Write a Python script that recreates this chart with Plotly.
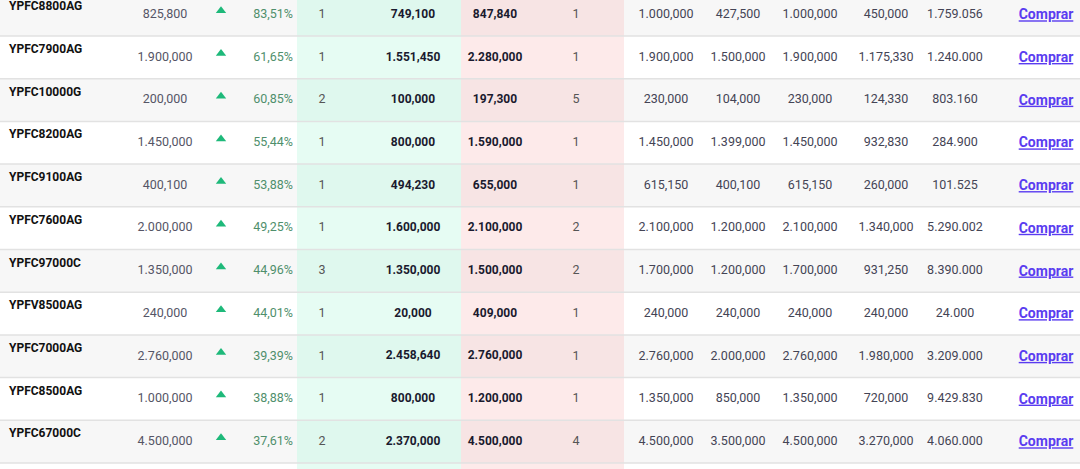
import plotly.graph_objects as go

names = ["YPFC8800AG","YPFC7900AG","YPFC10000G","YPFC8200AG","YPFC9100AG","YPFC7600AG",
         "YPFC97000C","YPFV8500AG","YPFC7000AG","YPFC8500AG","YPFC67000C"]
last = ["825,800","1.900,000","200,000","1.450,000","400,100","2.000,000","1.350,000","240,000","2.760,000","1.000,000","4.500,000"]
pct = ["83,51%","61,65%","60,85%","55,44%","53,88%","49,25%","44,96%","44,01%","39,39%","38,88%","37,61%"]
bid_qty = ["1","1","2","1","1","1","3","1","1","1","2"]
bid = ["749,100","1.551,450","100,000","800,000","494,230","1.600,000","1.350,000","20,000","2.458,640","800,000","2.370,000"]
ask = ["847,840","2.280,000","197,300","1.590,000","655,000","2.100,000","1.500,000","409,000","2.760,000","1.200,000","4.500,000"]
ask_qty = ["1","1","5","1","1","2","2","1","1","1","4"]
opn = ["1.000,000","1.900,000","230,000","1.450,000","615,150","2.100,000","1.700,000","240,000","2.760,000","1.350,000","4.500,000"]
low = ["427,500","1.500,000","104,000","1.399,000","400,100","1.200,000","1.200,000","240,000","2.000,000","850,000","3.500,000"]
high = ["1.000,000","1.900,000","230,000","1.450,000","615,150","2.100,000","1.700,000","240,000","2.760,000","1.350,000","4.500,000"]
prev = ["450,000","1.175,330","124,330","932,830","260,000","1.340,000","931,250","240,000","1.980,000","720,000","3.270,000"]
vol = ["1.759.056","1.240.000","803.160","284.900","101.525","5.290.002","8.390.000","24.000","3.209.000","9.429.830","4.060.000"]

RH = 42.7
T0 = -6.7
n = len(names)
tops = [T0 + RH * i for i in range(n)]
ynum = [t + 21.5 for t in tops]
yname = [t + 14 for t in tops]

fig = go.Figure()
shapes = []
for i, t in enumerate(tops):
    grey = i % 2 == 0
    shapes.append(dict(type="rect", x0=0, x1=1080, y0=t, y1=t + RH, fillcolor="#f7f7f7" if grey else "#ffffff", line_width=0, layer="below"))
    shapes.append(dict(type="rect", x0=297, x1=461, y0=t, y1=t + RH, fillcolor="#dff8ee" if grey else "#e6fcf3", line_width=0, layer="below"))
    shapes.append(dict(type="rect", x0=461, x1=624, y0=t, y1=t + RH, fillcolor="#f7e4e4" if grey else "#fdeaea", line_width=0, layer="below"))
    shapes.append(dict(type="line", x0=0, x1=1080, y0=t + RH, y1=t + RH, line=dict(color="#e2e2e2", width=1.5)))
shapes.append(dict(type="rect", x0=297, x1=461, y0=tops[-1] + RH, y1=480, fillcolor="#e6fcf3", line_width=0, layer="below"))
shapes.append(dict(type="rect", x0=461, x1=624, y0=tops[-1] + RH, y1=480, fillcolor="#fdeaea", line_width=0, layer="below"))

F = "Roboto"
def col(x, vals, ys, color, size=12.5, bold=False, pos="middle center"):
    txt = [f"<b>{v}</b>" if bold else v for v in vals]
    fig.add_trace(go.Scatter(x=[x] * len(vals), y=ys, mode="text", text=txt, textposition=pos,
                             textfont=dict(family=F, size=size, color=color), hoverinfo="skip", showlegend=False))

col(9, names, yname, "#111111", 12, True, "middle right")
col(165, last, ynum, "#555566")
fig.add_trace(go.Scatter(x=[221] * n, y=[y - 4 for y in ynum], mode="markers",
                         marker=dict(symbol="triangle-up", size=9, color="#1eb97a"), hoverinfo="skip", showlegend=False))
col(293, pct, ynum, "#4f8f6c", 12.5, False, "middle left")
col(322, bid_qty, ynum, "#555555")
col(413, bid, ynum, "#1a1a2e", 12, True)
col(495, ask, ynum, "#1a1a2e", 12, True)
col(576, ask_qty, ynum, "#555555")
col(666, opn, ynum, "#444455")
col(738, low, ynum, "#444455")
col(810, high, ynum, "#444455")
col(886, prev, ynum, "#444455")
col(955, vol, ynum, "#444455")
col(1046, ["<u>Comprar</u>"] * n, [y + 1 for y in ynum], "#5a3cf0", 14, True)

fig.update_layout(width=1080, height=469, margin=dict(l=0, r=0, t=0, b=0),
                  plot_bgcolor="#ffffff", paper_bgcolor="#ffffff", shapes=shapes,
                  xaxis=dict(range=[0, 1080], visible=False, fixedrange=True),
                  yaxis=dict(range=[469, 0], visible=False, fixedrange=True))
fig.write_html("out.html", config={"displayModeBar": False},
               post_script="document.body.style.margin='0';document.body.style.overflow='hidden';")
